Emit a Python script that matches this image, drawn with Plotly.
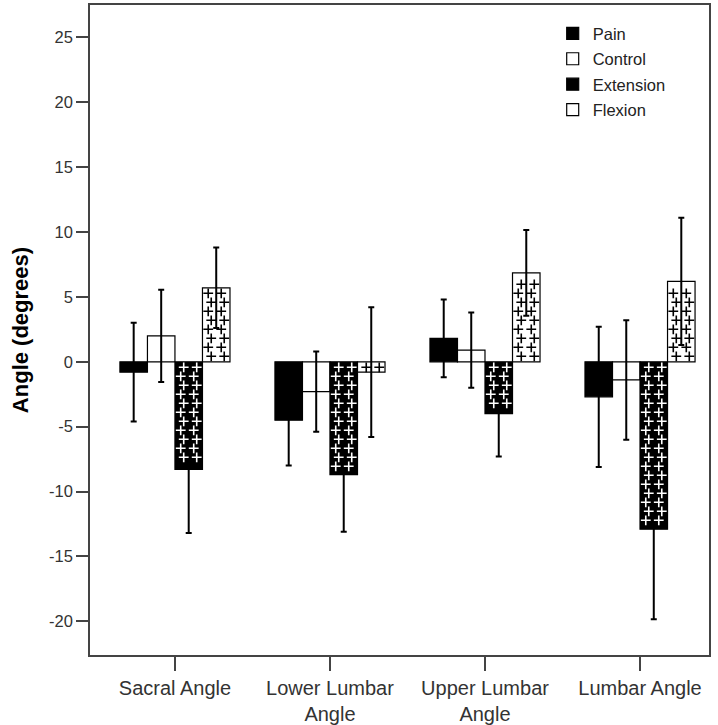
import plotly.graph_objects as go

categories = ["Sacral Angle", "Lower Lumbar<br>Angle", "Upper Lumbar<br>Angle", "Lumbar Angle"]
series_names = ["Pain", "Control", "Extension", "Flexion"]

pain_mean = [-0.8, -4.5, 1.8, -2.7]
pain_err = [3.8, 3.5, 3.0, 5.4]
control_mean = [2.0, -2.3, 0.9, -1.4]
control_err = [3.55, 3.1, 2.9, 4.6]
extension_mean = [-8.3, -8.7, -4.0, -12.9]
extension_err = [4.9, 4.4, 3.3, 6.95]
flexion_mean = [5.7, -0.8, 6.85, 6.2]
flexion_err = [3.1, 5.0, 3.3, 4.9]

y_ticks = [-20, -15, -10, -5, 0, 5, 10, 15, 20, 25]

means = [pain_mean, control_mean, extension_mean, flexion_mean]
errs = [pain_err, control_err, extension_err, flexion_err]
fill_colors = ["black", "white", "black", "white"]
plus_colors = [None, None, "white", "black"]

BARGAP = 0.29
X_RANGE = [-0.548, 3.445]
Y_RANGE = [-22.6, 27.5]

fig = go.Figure()
for j, name in enumerate(series_names):
    fig.add_trace(go.Bar(
        name=name,
        x=list(range(len(categories))),
        y=means[j],
        marker=dict(color=fill_colors[j], line=dict(color="black", width=1.2)),
        error_y=dict(type="data", array=errs[j], visible=True, color="black", thickness=2, width=3),
        legendgroup=name,
    ))

# plus-sign fill texture for the Extension and Flexion bars (derived from the bar values)
n_series = len(series_names)
bw = (1 - BARGAP) / n_series
plot_w_px = 718 - 90 - 9
plot_h_px = 725 - 5 - 70
x_per_px = (X_RANGE[1] - X_RANGE[0]) / plot_w_px
y_per_px = (Y_RANGE[1] - Y_RANGE[0]) / plot_h_px
for j in range(n_series):
    if plus_colors[j] is None:
        continue
    xs, ys = [], []
    offset = -(1 - BARGAP) / 2 + bw * (j + 0.5)
    for i, m in enumerate(means[j]):
        xc = i + offset
        sign = 1 if m >= 0 else -1
        y = 5.5 * y_per_px
        k = 0
        while y <= abs(m) - 4 * y_per_px:
            shift = (1.5 if k % 2 == 0 else -1.5) * x_per_px
            for d in (-6.5, 6.5):
                xs.append(xc + d * x_per_px + shift)
                ys.append(sign * y)
            y += 9 * y_per_px
            k += 1
    fig.add_trace(go.Scatter(
        x=xs, y=ys, mode="markers", showlegend=False, hoverinfo="skip",
        marker=dict(symbol="cross-thin", size=7, line=dict(width=1.6, color=plus_colors[j])),
    ))

fig.update_layout(
    width=718, height=725,
    margin=dict(l=90, r=9, t=5, b=70),
    plot_bgcolor="white", paper_bgcolor="white",
    barmode="group", bargap=BARGAP, bargroupgap=0,
    font=dict(family="Liberation Sans, Arial", color="#333333", size=16),
    showlegend=True,
    legend=dict(x=0.7475, y=0.983, xanchor="left", yanchor="top", bgcolor="rgba(0,0,0,0)",
                font=dict(size=16.5, color="#222222"), tracegroupgap=1, traceorder="grouped"),
)
fig.update_xaxes(
    range=X_RANGE,
    tickmode="array", tickvals=list(range(len(categories))), ticktext=categories,
    ticks="outside", ticklen=14, tickwidth=1.5, tickcolor="#444",
    showline=True, linecolor="#444", linewidth=1.5, mirror=True,
    showgrid=False, zeroline=False, tickfont=dict(size=20), automargin=False,
)
fig.update_yaxes(
    range=Y_RANGE,
    tickmode="array", tickvals=y_ticks, ticktext=[str(v) for v in y_ticks],
    ticks="outside", ticklen=12, tickwidth=1.5, tickcolor="#444",
    showline=True, linecolor="#444", linewidth=1.5, mirror=True,
    showgrid=False, zeroline=False, tickfont=dict(size=16.5), automargin=False,
    title=dict(text="<b>Angle (degrees)</b>", font=dict(size=22, color="black"), standoff=14),
)

fig.write_html("out.html", config={"displayModeBar": False},
               post_script="document.body.style.margin='0px';")
